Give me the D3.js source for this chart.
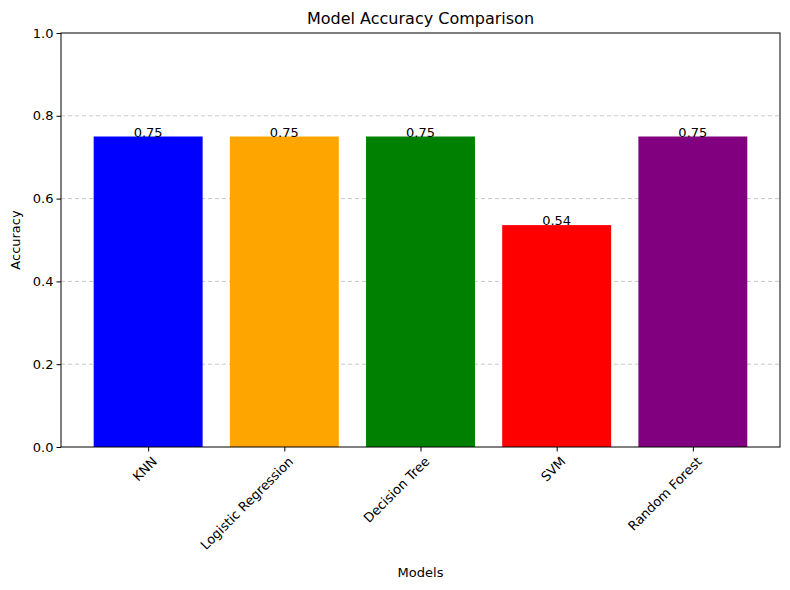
<!DOCTYPE html>
<html><head><meta charset="utf-8">
<script src="https://cdn.jsdelivr.net/npm/d3@7"></script>
<style>body{margin:0;background:#fff}text{font-family:"DejaVu Sans",sans-serif;}</style>
</head><body><svg id="c" width="790" height="590"></svg>
<script>
const models = ['KNN', 'Logistic Regression', 'Decision Tree', 'SVM', 'Random Forest'];
const accuracy = [0.75, 0.75, 0.75, 0.536, 0.75];
const barColors = ['blue', 'orange', 'green', 'red', 'purple'];
const yTicks = [0, 0.2, 0.4, 0.6, 0.8, 1.0];

const m = { left: 61, right: 10, top: 33, bottom: 143 };
const W = 790, H = 590;
const svg = d3.select('#c');
const x = d3.scaleLinear().domain([-0.64, 4.64]).range([m.left, W - m.right]);
const y = d3.scaleLinear().domain([0, 1]).range([H - m.bottom, m.top]);

// grid
svg.append('g').selectAll('line').data(yTicks.slice(1, -1)).enter().append('line')
  .attr('x1', m.left).attr('x2', W - m.right)
  .attr('y1', d => y(d)).attr('y2', d => y(d))
  .attr('stroke', '#b0b0b0').attr('stroke-opacity', 0.7).attr('stroke-dasharray', '4,3');

svg.append('g').selectAll('rect').data(models).enter().append('rect')
  .attr('x', (d, i) => x(i - 0.4)).attr('width', x(0.8) - x(0))
  .attr('y', (d, i) => y(accuracy[i])).attr('height', (d, i) => y(0) - y(accuracy[i]))
  .attr('fill', (d, i) => barColors[i]);

svg.append('g').selectAll('text').data(models).enter().append('text')
  .attr('x', (d, i) => x(i)).attr('y', (d, i) => y(accuracy[i]))
  .attr('text-anchor', 'middle').attr('font-size', 13)
  .text((d, i) => d3.format('.2f')(accuracy[i]));

const yAxis = svg.append('g').attr('transform', `translate(${m.left},0)`)
  .call(d3.axisLeft(y).tickValues(yTicks).tickFormat(d3.format('.1f')).tickSizeOuter(0).tickSize(4.5));
yAxis.selectAll('text').attr('font-size', 13).attr('fill', '#000');
yAxis.select('.domain').remove();

const xAxis = svg.append('g').attr('transform', `translate(0,${y(0)})`)
  .call(d3.axisBottom(x).tickValues(d3.range(models.length)).tickFormat(i => models[i]).tickSize(4.5));
xAxis.select('.domain').remove();
xAxis.selectAll('text').attr('font-size', 13).attr('fill', '#000')
  .attr('text-anchor', 'end').attr('dx', 0).attr('dy', 0)
  .attr('transform', 'translate(4,10) rotate(-45)');

svg.append('rect').attr('x', m.left).attr('y', m.top)
  .attr('width', W - m.right - m.left).attr('height', y(0) - m.top)
  .attr('fill', 'none').attr('stroke', '#000');

svg.append('text').attr('x', (m.left + W - m.right) / 2).attr('y', 24)
  .attr('text-anchor', 'middle').attr('font-size', 16).text('Model Accuracy Comparison');
svg.append('text').attr('x', (m.left + W - m.right) / 2).attr('y', 577)
  .attr('text-anchor', 'middle').attr('font-size', 13).text('Models');
svg.append('text').attr('transform', `translate(20,${(m.top + y(0)) / 2}) rotate(-90)`)
  .attr('text-anchor', 'middle').attr('font-size', 13).text('Accuracy');
</script></body></html>
